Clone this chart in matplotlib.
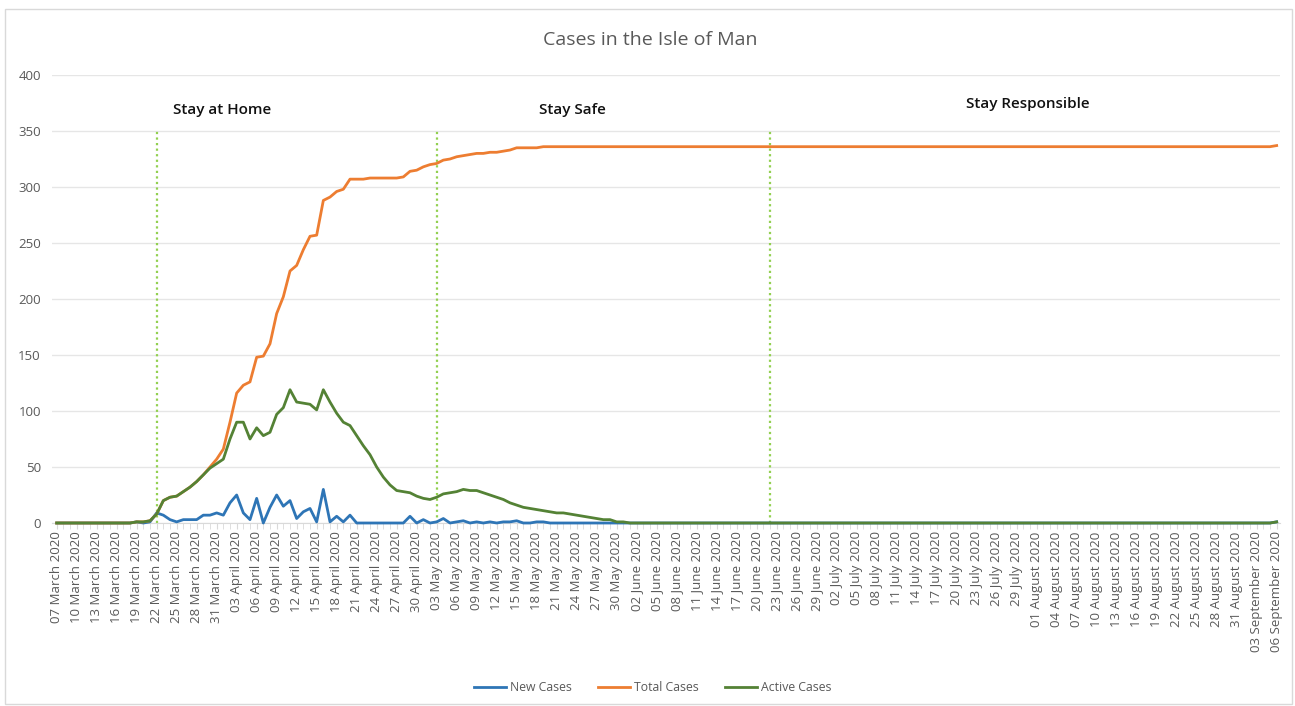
import matplotlib
matplotlib.use("Agg")
import matplotlib.pyplot as plt
from matplotlib.patches import Rectangle
from matplotlib.ticker import MultipleLocator, FixedLocator
import pandas as pd

plt.rcParams['font.family'] = ['Open Sans', 'DejaVu Sans']

# daily categories, 07 March 2020 .. 06 September 2020
dates = pd.date_range("2020-03-07", "2020-09-06", freq="D")
date_labels = [d.strftime("%d %B %Y") for d in dates]

new_cases = ([0] * 12 +
             [1, 0, 1, 9, 7, 3, 1, 3, 3, 3, 7, 7, 9, 7, 18, 25, 9, 3, 22, 0,
              14, 25, 15, 20, 4, 10, 13, 1, 30, 1, 6, 1, 7] +
             [0] * 8 +
             [6, 0, 3, 0, 1, 4, 0, 1, 2, 0, 1, 0, 1, 0, 1, 1, 2, 0, 0, 1, 1] +
             [0] * 109 + [1])

total_cases = ([0] * 12 +
               [1, 1, 2, 8, 20, 23, 24, 28, 32, 37, 43, 50, 57, 66, 90, 116,
                123, 126, 148, 149, 160, 187, 202, 225, 230, 244, 256, 257,
                288, 291, 296, 298, 307, 307, 307, 308, 308, 308, 308, 308,
                309, 314, 315, 318, 320, 321, 324, 325, 327, 328, 329, 330,
                330, 331, 331, 332, 333, 335, 335, 335, 335] +
               [336] * 110 + [337])

active_cases = ([0] * 12 +
                [1, 1, 2, 8, 20, 23, 24, 28, 32, 37, 43, 49, 53, 57, 75, 90,
                 90, 75, 85, 78, 81, 97, 103, 119, 108, 107, 106, 101, 119,
                 108, 98, 90, 87, 78, 69, 61, 50, 41, 34, 29, 28, 27, 24, 22,
                 21, 23, 26, 27, 28, 30, 29, 29, 27, 25, 23, 21, 18, 16, 14,
                 13, 12, 11, 10, 9, 9, 8, 7, 6, 5, 4, 3, 3, 1, 1] +
                [0] * 97 + [1])

phase_dates = ["2020-03-22", "2020-05-03", "2020-06-22"]
phase_labels = ["Stay at Home", "Stay Safe", "Stay Responsible"]

series = [("New Cases", new_cases, "#2E75B6"),
          ("Total Cases", total_cases, "#ED7D31"),
          ("Active Cases", active_cases, "#548235")]

fig = plt.figure(figsize=(12.95, 7.06), dpi=100)
ax = fig.add_axes([52 / 1295, (706 - 523) / 706, 1228 / 1295, 448 / 706])

idx = list(range(len(dates)))
for name, vals, col in series:
    ax.plot(idx, vals, color=col, lw=2.0, label=name, clip_on=False, zorder=3,
            solid_joinstyle="round")

# phase boundaries
pos = [dates.get_loc(pd.Timestamp(p)) for p in phase_dates]
ax.vlines(pos, 0, 350, colors="#92D050", linestyles=(0, (1, 1.5)), lw=1.6, zorder=2)
label_x = [24.8, 77.3, 145.7]
label_y = [369, 369, 374]
for lx, ly, t in zip(label_x, label_y, phase_labels):
    ax.text(lx, ly, t, ha="center", va="center", fontsize=11, color="#111111",
            fontweight="semibold")

ax.set_xlim(-0.7, 183.5)
ax.set_ylim(0, 400)
ax.yaxis.set_major_locator(MultipleLocator(50))
ax.grid(axis="y", color="#E6E6E6", lw=1)
ax.set_axisbelow(True)
for s in ["top", "right", "left"]:
    ax.spines[s].set_visible(False)
ax.spines["bottom"].set_color("#D9D9D9")
ax.tick_params(axis="y", length=0, labelsize=9.5, labelcolor="#595959", pad=8)

ax.xaxis.set_major_locator(FixedLocator(idx[::3]))
ax.xaxis.set_minor_locator(FixedLocator(idx))
ax.set_xticklabels(date_labels[::3], rotation=90, fontsize=9.5, color="#595959")
ax.tick_params(axis="x", which="both", length=4, color="#D9D9D9", pad=2)

fig.text(0.502, 0.943, "Cases in the Isle of Man", ha="center", va="center",
         fontsize=14, color="#595959")

fig.legend(loc="center", bbox_to_anchor=(0.504, 0.026), ncol=3, frameon=False,
           fontsize=8.8, labelcolor="#595959", handlelength=2.6, columnspacing=2.2,
           handletextpad=0.3)

fig.patches.append(Rectangle((5 / 1295, 2 / 706), 1287 / 1295, 695 / 706,
                             transform=fig.transFigure, fill=False,
                             edgecolor="#D9D9D9", lw=1))

fig.savefig("out.png", dpi=100)
